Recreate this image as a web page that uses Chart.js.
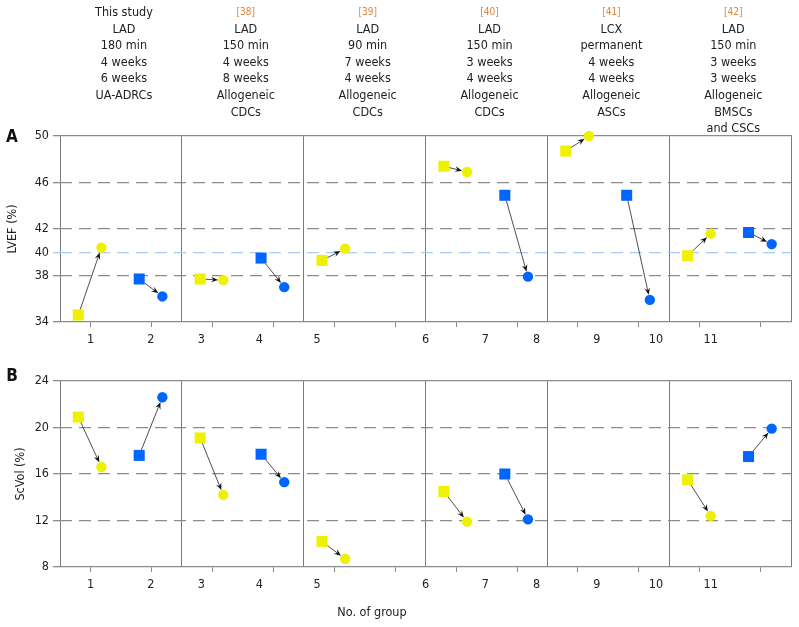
<!DOCTYPE html>
<html>
<head>
<meta charset="utf-8">
<script src="https://cdn.jsdelivr.net/npm/chart.js@4.4.0/dist/chart.umd.min.js"></script>
<style>
  html, body { margin: 0; padding: 0; background: #fff; }
  #wrap { position: relative; width: 799px; height: 627px; }
  canvas { position: absolute; left: 0; }
  #chartA { top: 0; }
  #chartB { top: 360px; }
</style>
</head>
<body>
<div id="wrap">
  <canvas id="chartA" width="799" height="360"></canvas>
  <canvas id="chartB" width="799" height="267"></canvas>
</div>
<script>
// group numbers and where Excel put their labels on the x axis
const groupNumbers = ['1', '2', '3', '4', '5', '6', '7', '8', '9', '10', '11'];
const groupLabelPos = [0.5, 1.49, 2.32, 3.27, 4.22, 6.0, 6.98, 7.82, 8.81, 9.78, 10.68];
const tickMarkPos = [0.5, 1.5, 2.5, 3.5, 4.5, 5.5, 6.5, 7.5, 8.5, 9.5, 10.5, 11.5];
const separatorPos = [0, 2, 4, 6, 8, 10, 12];

// slot of each group (two slots per study) and its colour
const groupSlot = [0, 1, 2, 3, 4, 6, 7, 8, 9, 10, 11];
const groupKind = ['yellow', 'blue', 'yellow', 'blue', 'yellow', 'yellow', 'blue', 'yellow', 'blue', 'yellow', 'blue'];

const lvefBefore = [34.6, 37.7, 37.7, 39.5, 39.3, 47.4, 44.9, 48.7, 44.9, 39.7, 41.7];
const lvefAfter = [40.4, 36.2, 37.6, 37.0, 40.3, 46.9, 37.9, 50.0, 35.9, 41.6, 40.7];
const scvolBefore = [20.9, 17.6, 19.1, 17.7, 10.2, 14.5, 16.0, null, null, 15.5, 17.5];
const scvolAfter = [16.6, 22.6, 14.2, 15.3, 8.7, 11.9, 12.1, null, null, 12.4, 19.9];

const lvefTicks = [34, 38, 40, 42, 46, 50];
const scvolTicks = [8, 12, 16, 20, 24];

const studyNotes = [
    ['This study', 'LAD', '180 min', '4 weeks', '6 weeks', 'UA-ADRCs'],
    ['[38]', 'LAD', '150 min', '4 weeks', '8 weeks', 'Allogeneic', 'CDCs'],
    ['[39]', 'LAD', '90 min', '7 weeks', '4 weeks', 'Allogeneic', 'CDCs'],
    ['[40]', 'LAD', '150 min', '3 weeks', '4 weeks', 'Allogeneic', 'CDCs'],
    ['[41]', 'LCX', 'permanent', '4 weeks', '4 weeks', 'Allogeneic', 'ASCs'],
    ['[42]', 'LAD', '150 min', '3 weeks', '3 weeks', 'Allogeneic', 'BMSCs', 'and CSCs']
];

const FONT = "'DejaVu Sans Condensed', 'DejaVu Sans', sans-serif";
const COLORS = { yellow: '#EEF200', blue: '#0066FF' };
const BEFORE_X = 0.3;
const AFTER_X = 0.68;

Chart.defaults.font.family = FONT;
Chart.defaults.font.size = 12.5;
Chart.defaults.color = '#222';

// arrow from each square (before) to its circle (after)
const arrowPlugin = {
    id: 'pairArrows',
    afterDatasetsDraw(chart) {
        const ctx = chart.ctx;
        chart.data.datasets.forEach((ds, i) => {
            const pts = chart.getDatasetMeta(i).data;
            if (pts.length < 2 || pts[0].skip || pts[1].skip) return;
            const a = pts[0], b = pts[1];
            const dx = b.x - a.x, dy = b.y - a.y;
            const len = Math.hypot(dx, dy);
            if (len < 1) return;
            const ux = dx / len, uy = dy / len;
            const half = a.options.radius * Math.SQRT1_2;
            const d0 = half / Math.max(Math.abs(ux), Math.abs(uy));
            const sx = a.x + ux * d0, sy = a.y + uy * d0;
            const ex = b.x - ux * b.options.radius, ey = b.y - uy * b.options.radius;
            ctx.save();
            ctx.strokeStyle = '#222';
            ctx.fillStyle = '#111';
            ctx.lineWidth = 0.8;
            ctx.beginPath();
            ctx.moveTo(sx, sy);
            ctx.lineTo(ex - ux * 4, ey - uy * 4);
            ctx.stroke();
            const hl = 7, hw = 2.8;
            ctx.beginPath();
            ctx.moveTo(ex, ey);
            ctx.lineTo(ex - ux * hl - uy * hw, ey - uy * hl + ux * hw);
            ctx.lineTo(ex - ux * hl * 0.65, ey - uy * hl * 0.65);
            ctx.lineTo(ex - ux * hl + uy * hw, ey - uy * hl - ux * hw);
            ctx.closePath();
            ctx.fill();
            ctx.restore();
        });
    }
};

// header notes, panel letter, axis caption
const textPlugin = {
    id: 'panelText',
    afterDraw(chart, args, opts) {
        const ctx = chart.ctx;
        const xs = chart.scales.x;
        ctx.save();
        ctx.textAlign = 'center';
        ctx.textBaseline = 'middle';
        if (opts.header) {
            studyNotes.forEach((lines, i) => {
                const cx = xs.getPixelForValue(2 * i + 1) + 3;
                lines.forEach((t, j) => {
                    const isRef = t.startsWith('[');
                    ctx.font = (isRef ? '10px ' : '12.5px ') + FONT;
                    ctx.fillStyle = isRef ? '#E0843A' : '#222';
                    ctx.fillText(t, cx, 12.7 + 16.6 * j);
                });
            });
        }
        ctx.font = 'bold 17px ' + FONT;
        ctx.fillStyle = '#111';
        ctx.fillText(opts.letter, 12, opts.letterY);
        if (opts.caption) {
            ctx.font = '12.5px ' + FONT;
            ctx.fillStyle = '#222';
            ctx.fillText(opts.caption, 372, opts.captionY);
        }
        ctx.restore();
    }
};

function buildDatasets(before, after) {
    return groupSlot.map((slot, i) => ({
        label: 'Group ' + groupNumbers[i],
        data: [
            { x: slot + BEFORE_X, y: before[i] },
            { x: slot + AFTER_X, y: after[i] }
        ],
        pointStyle: ['rect', 'circle'],
        pointRadius: [7.8, 5.2],
        pointHoverRadius: [7.8, 5.2],
        backgroundColor: COLORS[groupKind[i]],
        borderWidth: 0,
        showLine: false,
        clip: false
    }));
}

function makeChart(id, cfg) {
    const yTicks = cfg.yTicks;
    const gridCol = (c, edge) => {
        const v = c.tick ? c.tick.value : null;
        if (v === cfg.refLine) return '#A9CBF2';
        if (!edge && (v === yTicks[0] || v === yTicks[yTicks.length - 1])) return 'rgba(0,0,0,0)';
        return '#8C8C8C';
    };
    return new Chart(document.getElementById(id), {
        type: 'scatter',
        data: { datasets: buildDatasets(cfg.before, cfg.after) },
        options: {
            responsive: false,
            animation: false,
            layout: { padding: { top: cfg.padTop, right: 7, left: 0, bottom: 0 } },
            plugins: {
                legend: { display: false },
                tooltip: { enabled: false },
                panelText: cfg.text
            },
            scales: {
                x: {
                    type: 'linear', position: 'bottom', weight: 0,
                    min: 0, max: 12,
                    afterBuildTicks: ax => { ax.ticks = tickMarkPos.map(v => ({ value: v })); },
                    afterFit: ax => { ax.height = 5; },
                    ticks: { display: false },
                    grid: { drawOnChartArea: false, tickLength: 5, color: '#8C8C8C', lineWidth: 1 },
                    border: { display: true, color: '#8C8C8C', width: 1.2 }
                },
                xl: {
                    type: 'linear', position: 'bottom', weight: 1,
                    min: 0, max: 12,
                    afterBuildTicks: ax => { ax.ticks = groupLabelPos.map(v => ({ value: v })); },
                    afterFit: ax => { ax.height = cfg.labelAxisHeight; },
                    ticks: { padding: 5, maxRotation: 0, autoSkip: false, callback: (v, i) => groupNumbers[i] },
                    grid: { display: false, drawTicks: false },
                    border: { display: false }
                },
                xs: {
                    type: 'linear', position: 'top',
                    min: 0, max: 12,
                    afterBuildTicks: ax => { ax.ticks = separatorPos.map(v => ({ value: v })); },
                    afterFit: ax => { ax.height = 0; },
                    ticks: { display: false },
                    grid: { drawTicks: false, color: '#7A7A7A', lineWidth: 1 },
                    border: { display: true, color: '#8C8C8C', width: 1.2 }
                },
                y: {
                    min: yTicks[0], max: yTicks[yTicks.length - 1],
                    afterBuildTicks: ax => { ax.ticks = yTicks.map(v => ({ value: v })); },
                    afterFit: ax => { ax.width = 60; },
                    ticks: { padding: 4 },
                    grid: {
                        color: c => gridCol(c, false),
                        tickColor: c => gridCol(c, true),
                        lineWidth: 1.3,
                        tickLength: 7
                    },
                    border: { display: false, dash: [12, 7] },
                    title: { display: true, text: cfg.yTitle, padding: { top: cfg.titlePad, bottom: 0 } }
                }
            }
        },
        plugins: [arrowPlugin, textPlugin]
    });
}

makeChart('chartA', {
    before: lvefBefore, after: lvefAfter, yTicks: lvefTicks, refLine: 40,
    yTitle: 'LVEF (%)', titlePad: 5, padTop: 136, labelAxisHeight: 33,
    text: { header: true, letter: 'A', letterY: 137.7 }
});

makeChart('chartB', {
    before: scvolBefore, after: scvolAfter, yTicks: scvolTicks, refLine: null,
    yTitle: 'ScVol (%)', titlePad: 13, padTop: 21, labelAxisHeight: 55,
    text: { header: false, letter: 'B', letterY: 16.7, caption: 'No. of group', captionY: 252.7 }
});
</script>
</body>
</html>
